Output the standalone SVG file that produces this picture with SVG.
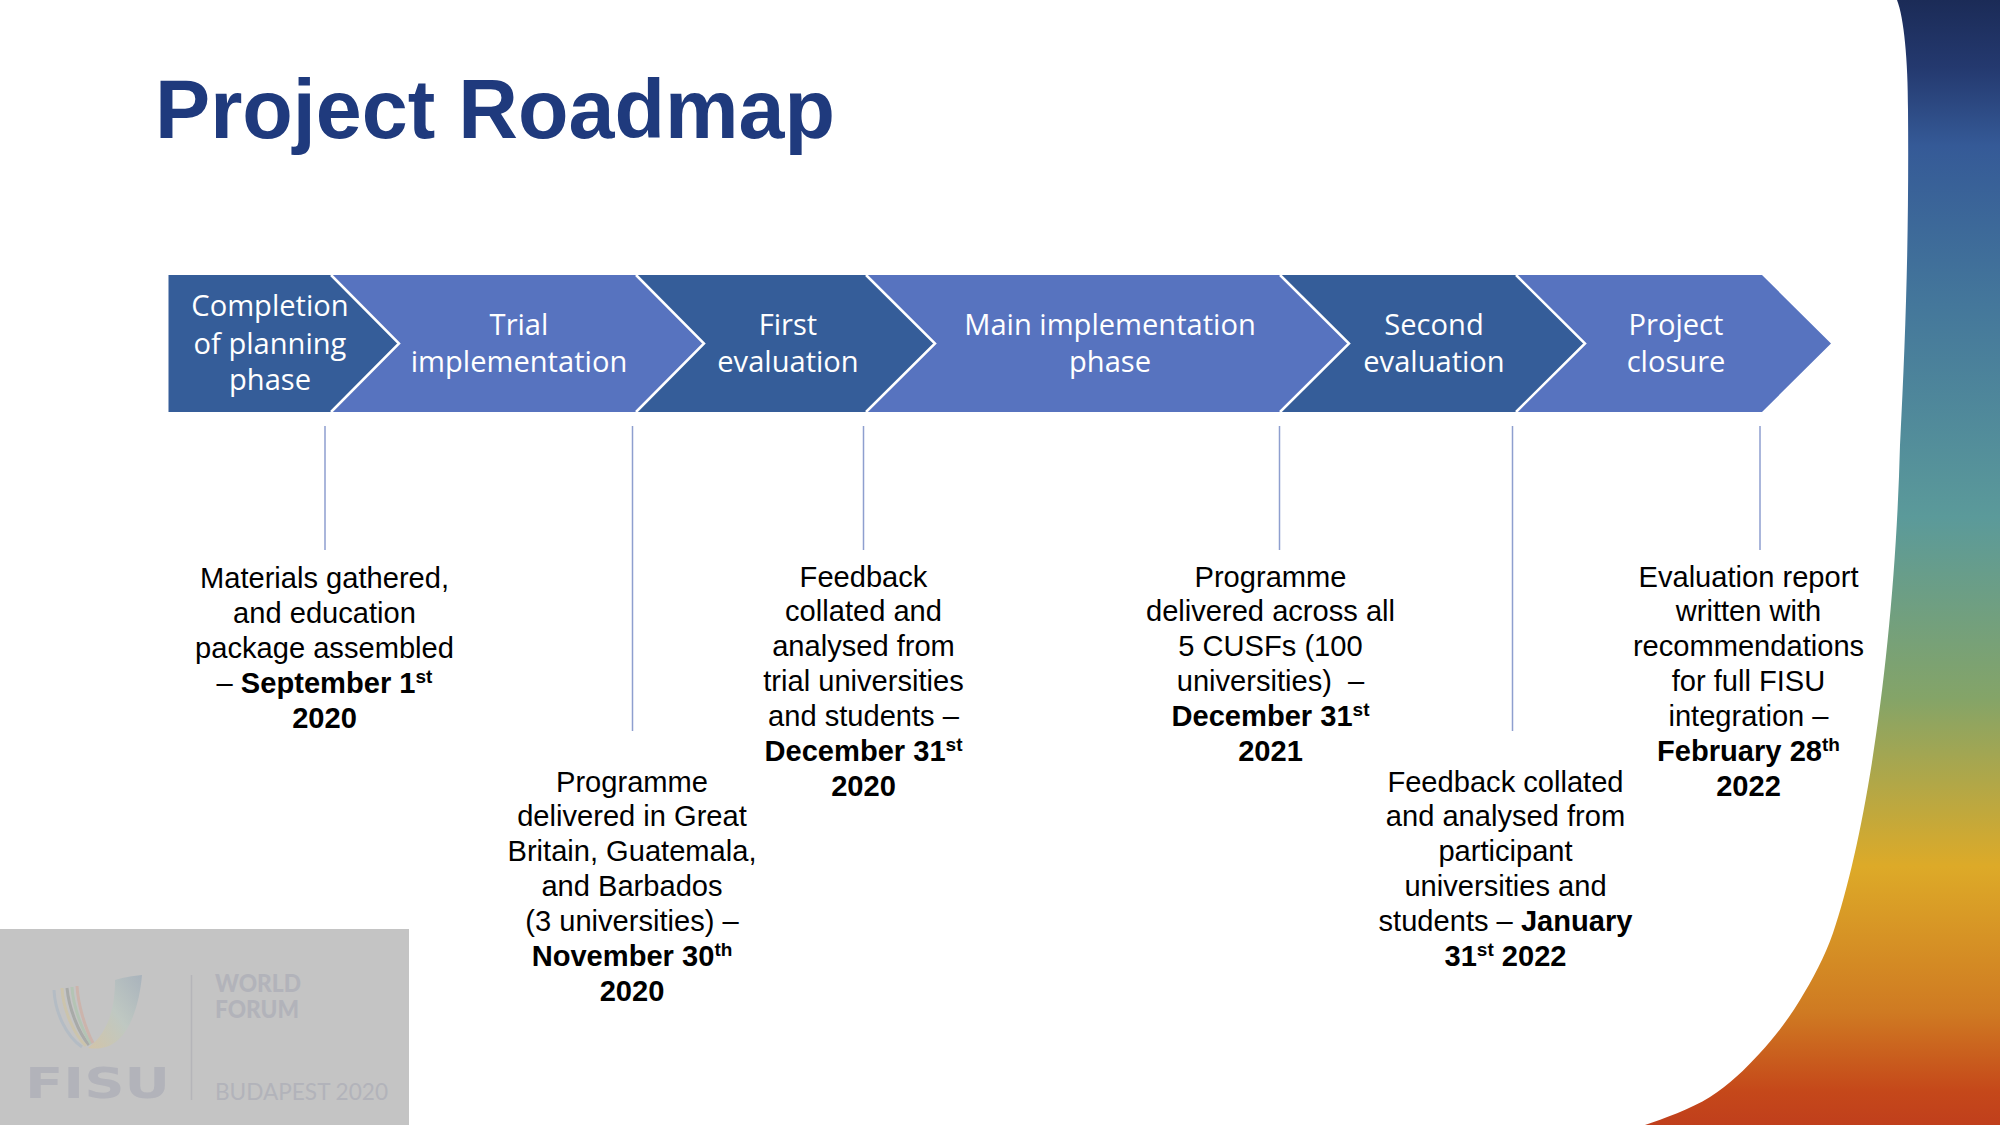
<svg xmlns="http://www.w3.org/2000/svg" width="2000" height="1125" viewBox="0 0 2000 1125">
<style>
.t{font-family:"Liberation Sans",Arial,sans-serif;font-size:29.1px;fill:#000;text-anchor:middle}
.b{font-weight:700}
.s{font-size:19px}
.c{font-family:"Open Sans","Noto Sans",sans-serif;font-size:29.1px;fill:#fff;text-anchor:middle}
.d{fill:#355d99}.l{fill:#5773bf}
.e{fill:none;stroke:#fff;stroke-width:2.5}
.v{stroke:#8e9fcf;stroke-width:1.5;fill:none}
.g{fill:#b2b3ba}
.st{fill:none;stroke-width:3}
</style>
<defs>
<linearGradient id="side" x1="0" y1="0" x2="0" y2="1">
<stop offset="0" stop-color="#1b2b57"/><stop offset=".06" stop-color="#24396f"/><stop offset=".13" stop-color="#355a97"/><stop offset=".27" stop-color="#44779b"/><stop offset=".46" stop-color="#5b9a9a"/><stop offset=".62" stop-color="#84a468"/><stop offset=".77" stop-color="#ddaa28"/><stop offset=".9" stop-color="#cf7a22"/><stop offset=".97" stop-color="#c5481a"/><stop offset="1" stop-color="#c03f1c"/>
</linearGradient>
<linearGradient id="sw" x1="0" y1="1" x2="1" y2="0">
<stop offset="0" stop-color="#d2c4a8"/><stop offset=".5" stop-color="#bfc8c2"/><stop offset="1" stop-color="#a9b3bc"/>
</linearGradient>
</defs>
<rect width="2000" height="1125" fill="#fff"/>
<path d="M1897 0C1904 18 1908 60 1908 110C1909 230 1906 330 1900 445C1895 640 1868 830 1833 933C1825 956.500 1812.200 980 1800 1000C1787.800 1020 1775 1036.800 1760 1053C1745 1069.200 1729.200 1085 1710 1097C1690.800 1109 1663.300 1118.700 1645 1125H2000V0Z" fill="url(#side)"/>
<text x="155" y="138" textLength="680" lengthAdjust="spacingAndGlyphs" style="font-family:'Liberation Sans',Arial,sans-serif;font-size:84px;font-weight:700;fill:#1f3a7d" id="title">Project Roadmap</text>

<g id="connectors">
<path class="v" d="M325 426V550M632.500 426V731M863.500 426V550M1279.500 426V550M1512.500 426V731M1760 426V550"/>
</g>

<g id="logo">
<rect y="929" width="409" height="196" fill="#c4c4c4"/>
<path d="M142 975C130 976 122 978 115 980C115 1000 112 1030 88 1048C100 1050 110 1047 118 1040C132 1028 140 1000 142 975Z" fill="url(#sw)"/>
<path class="st" stroke="#b4bcc4" d="M54 990C55 1012 66 1036 82 1047"/>
<path class="st" stroke="#ccc4ac" d="M62 988C63 1010 74 1034 86 1046"/>
<path class="st" stroke="#a8aaa8" d="M67 988C69 1008 78 1032 89 1045"/>
<path class="st" stroke="#b4c4b4" d="M72 987C73 1006 82 1030 91 1044"/>
<path class="st" stroke="#ccb4ac" d="M77 986C78 1004 85 1028 93 1043"/>
<path d="M191.500 975V1100" fill="none" stroke="#b5b5b9" stroke-width="1.500"/>
<text class="g" x="25" y="1098" textLength="145" lengthAdjust="spacingAndGlyphs" style="font-family:'DejaVu Sans',sans-serif;font-weight:700;font-size:43px">FISU</text>
<text class="g" x="215" y="992" textLength="86" lengthAdjust="spacingAndGlyphs" style="font-family:Lato,sans-serif;font-weight:900;font-size:24px">WORLD</text>
<text class="g" x="215" y="1018" textLength="84" lengthAdjust="spacingAndGlyphs" style="font-family:Lato,sans-serif;font-weight:900;font-size:24px">FORUM</text>
<text class="g" x="215" y="1100" textLength="173" lengthAdjust="spacingAndGlyphs" style="font-family:Lato,sans-serif;font-size:24px">BUDAPEST 2020</text>
</g>

<g id="n6"><path class="l" d="M1515 275H1762L1831 343.500L1762 412H1515L1584 343.500Z"/><text class="c" x="1676" y="335">Project</text><text class="c" x="1676" y="372">closure</text></g>
<g id="n5"><path class="d" d="M1279 275H1516L1585 343.500L1516 412H1279L1348 343.500Z"/><path class="e" d="M1516 275L1585 343.500L1516 412"/><text class="c" x="1434" y="335">Second</text><text class="c" x="1434" y="372">evaluation</text></g>
<g id="n4"><path class="l" d="M865 275H1280L1349 343.500L1280 412H865L935 343.500Z"/><path class="e" d="M1280 275L1349 343.500L1280 412"/><text class="c" x="1110" y="335">Main implementation</text><text class="c" x="1110" y="372">phase</text></g>
<g id="n3"><path class="d" d="M635 275H866L935 343.500L866 412H635L704 343.500Z"/><path class="e" d="M866 275L935 343.500L866 412"/><text class="c" x="788" y="335">First</text><text class="c" x="788" y="372">evaluation</text></g>
<g id="n2"><path class="l" d="M330 275H636L704 343.500L636 412H330L399 343.500Z"/><path class="e" d="M636 275L704 343.500L636 412"/><text class="c" x="519" y="335">Trial</text><text class="c" x="519" y="372">implementation</text></g>
<g id="n1"><path class="d" d="M168.500 275H331L399 343.500L331 412H168.500Z"/><path class="e" d="M331 275L399 343.500L331 412"/><text class="c" x="270" y="316">Completion</text><text class="c" x="270" y="354">of planning</text><text class="c" x="270" y="390">phase</text></g>

<g id="m1">
<text class="t" x="324.500" y="588">Materials gathered,</text><text class="t" x="324.500" y="622.500">and education</text><text class="t" x="324.500" y="658">package assembled</text>
<text class="t" x="324.500" y="693">– <tspan class="b">September 1</tspan><tspan class="b s" dy="-10">st</tspan></text><text class="t b" x="324.500" y="728">2020</text>
</g>
<g id="m2" transform="translate(0,-.5)">
<text class="t" x="632" y="792">Programme</text><text class="t" x="632" y="826.500">delivered in Great</text><text class="t" x="632" y="861.500">Britain, Guatemala,</text><text class="t" x="632" y="896.500">and Barbados</text><text class="t" x="632" y="931.500">(3 universities) –</text>
<text class="t b" x="632" y="966.500">November 30<tspan class="s" dy="-10">th</tspan></text><text class="t b" x="632" y="1001.500">2020</text>
</g>
<g id="m3" transform="translate(0,-.5)">
<text class="t" x="863.500" y="587">Feedback</text><text class="t" x="863.500" y="621.500">collated and</text><text class="t" x="863.500" y="656.500">analysed from</text><text class="t" x="863.500" y="691.500">trial universities</text><text class="t" x="863.500" y="726.500">and students –</text>
<text class="t b" x="863.500" y="761.500">December 31<tspan class="s" dy="-10">st</tspan></text><text class="t b" x="863.500" y="796.500">2020</text>
</g>
<g id="m4" transform="translate(0,-.5)">
<text class="t" x="1270.500" y="587">Programme</text><text class="t" x="1270.500" y="621.500">delivered across all</text><text class="t" x="1270.500" y="656.500">5 CUSFs (100</text><text class="t" x="1270.500" y="691.500" xml:space="preserve">universities)  –</text>
<text class="t b" x="1270.500" y="726.500">December 31<tspan class="s" dy="-10">st</tspan></text><text class="t b" x="1270.500" y="761.500">2021</text>
</g>
<g id="m5" transform="translate(0,-.5)">
<text class="t" x="1505.500" y="792">Feedback collated</text><text class="t" x="1505.500" y="826.500">and analysed from</text><text class="t" x="1505.500" y="861.500">participant</text><text class="t" x="1505.500" y="896.500">universities and</text>
<text class="t" x="1505.500" y="931.500">students – <tspan class="b">January</tspan></text><text class="t b" x="1505.500" y="966.500">31<tspan class="s" dy="-10">st</tspan><tspan dy="10"> 2022</tspan></text>
</g>
<g id="m6" transform="translate(0,-.5)">
<text class="t" x="1748.500" y="587">Evaluation report</text><text class="t" x="1748.500" y="621.500">written with</text><text class="t" x="1748.500" y="656.500">recommendations</text><text class="t" x="1748.500" y="691.500">for full FISU</text><text class="t" x="1748.500" y="726.500">integration –</text>
<text class="t b" x="1748.500" y="761.500">February 28<tspan class="s" dy="-10">th</tspan></text><text class="t b" x="1748.500" y="796.500">2022</text>
</g>
</svg>
